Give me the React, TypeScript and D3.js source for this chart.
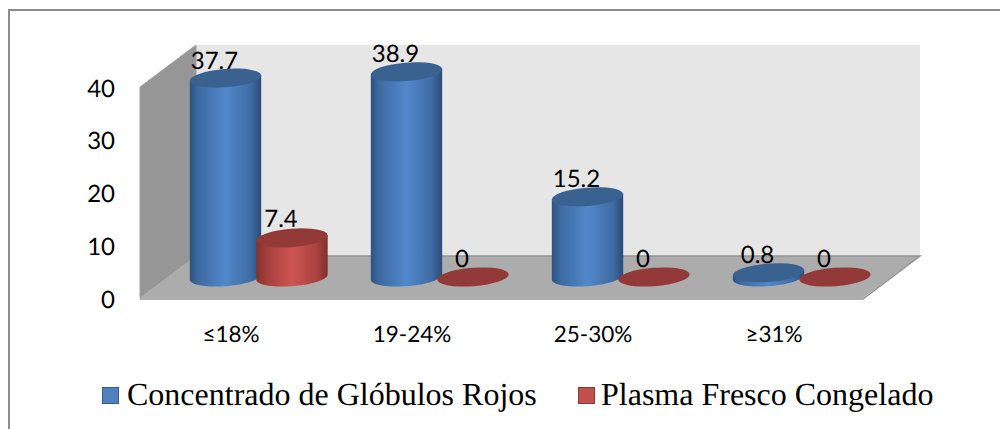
import React from "react";
import * as d3 from "d3";

const categories = ["≤18%", "19-24%", "25-30%", "≥31%"];
const seriesNames = ["Concentrado de Glóbulos Rojos", "Plasma Fresco Congelado"];
const globulos = [37.7, 38.9, 15.2, 0.8];
const plasma = [7.4, 0, 0, 0];
const yTicks = [0, 10, 20, 30, 40];

const W = 1000, H = 429;
const x = d3.scaleBand<string>().domain(categories).range([180, 904]).paddingInner(0).paddingOuter(0);
const yFront = d3.scaleLinear().domain([0, 40]).range([298, 87]);
const yBar = d3.scaleLinear().domain([0, 40]).range([277, 66]);
const RX = 35.8, RY = 9.2, TILT = -4.5;

function Cyl({ cx, v, fill, top }: { cx: number; v: number; fill: string; top: string }) {
  const y0 = yBar(0), y1 = yBar(v);
  const c = Math.cos(TILT * Math.PI / 180), s = Math.sin(TILT * Math.PI / 180);
  const path = d3.path();
  const dx = RX * c, dy = RX * s;
  path.moveTo(cx - dx, y1 - dy);
  d3.range(0, 41).forEach(i => {
    const t = Math.PI - (i / 40) * Math.PI;
    const ex = RX * Math.cos(t), ey = RY * Math.sin(t);
    path.lineTo(cx + ex * c - ey * s, y0 + ex * s + ey * c);
  });
  path.lineTo(cx + dx, y1 + dy);
  path.closePath();
  return (
    <g>
      {v > 0 && <path d={path.toString()} fill={fill} />}
      <ellipse cx={cx} cy={y1} rx={RX} ry={RY} fill={top} transform={`rotate(${TILT} ${cx} ${y1})`} />
    </g>
  );
}

export default function App() {
  const step = x.bandwidth();
  const blueX = (c: string) => x(c)! + step / 2 - 45;
  const redX = (c: string) => blueX(c) + 66.5;
  const calibri = { fontFamily: "Lato", fill: "#000", textRendering: "geometricPrecision" } as const;
  return (
    <svg width={W} height={H} style={{ position: "absolute", left: 0, top: 0 }}>
      <defs>
        <linearGradient id="b">
          <stop offset="0" stopColor="#2f527f" />
          <stop offset="0.12" stopColor="#3d6aa3" />
          <stop offset="0.5" stopColor="#5288cb" />
          <stop offset="0.85" stopColor="#3f6ca5" />
          <stop offset="1" stopColor="#2c4c75" />
        </linearGradient>
        <linearGradient id="r">
          <stop offset="0" stopColor="#843330" />
          <stop offset="0.15" stopColor="#a53f3c" />
          <stop offset="0.5" stopColor="#cd5552" />
          <stop offset="0.85" stopColor="#a8423f" />
          <stop offset="1" stopColor="#7e302e" />
        </linearGradient>
      </defs>
      <rect x={9} y={10} width={1000} height={440} fill="#fff" stroke="#8c8c8c" strokeWidth={2} />
      <polygon points={`196,45 920,45 920,256 196,256`} fill="#e6e6e6" />
      <polygon points={`140,87 196,45 196,256 140,298`} fill="#969696" stroke="#a0a0a0" />
      <polygon points={`140,298 196,256 920,256 863,298`} fill="#acacac" />
      <path d="M196,256 L920,256 L863,299 L140,299" fill="none" stroke="#949494" strokeWidth={1.5} />
      {yTicks.map(t => (
        <text key={t} x={115} y={yFront(t) + 9.5} textAnchor="end" fontSize={24} {...calibri}>{t}</text>
      ))}
      {categories.map((c, i) => (
        <g key={c}>
          <Cyl cx={blueX(c)} v={globulos[i]} fill="url(#b)" top="#3a6291" />
          <Cyl cx={redX(c)} v={plasma[i]} fill="url(#r)" top="#933937" />
          <text x={blueX(c) - 11} y={yBar(globulos[i]) - 9.5} textAnchor="middle" fontSize={24} {...calibri}>{globulos[i]}</text>
          <text x={redX(c) - 11} y={yBar(plasma[i]) - 10.5} textAnchor="middle" fontSize={24} {...calibri}>{plasma[i]}</text>
          <text x={blueX(c) + 5.5} y={342} textAnchor="middle" fontSize={22.5} {...calibri}>{c}</text>
        </g>
      ))}
      <rect x={102.5} y={387.5} width={16} height={16} fill="#4f81bd" stroke="#385d8a" />
      <text x={127} y={405} fontFamily="Liberation Serif" fontSize={32} fill="#000" textRendering="geometricPrecision">{seriesNames[0]}</text>
      <rect x={578.5} y={387.5} width={16} height={16} fill="#c0504d" stroke="#8c3836" />
      <text x={601} y={405} fontFamily="Liberation Serif" fontSize={32} fill="#000" textRendering="geometricPrecision">{seriesNames[1]}</text>
    </svg>
  );
}
